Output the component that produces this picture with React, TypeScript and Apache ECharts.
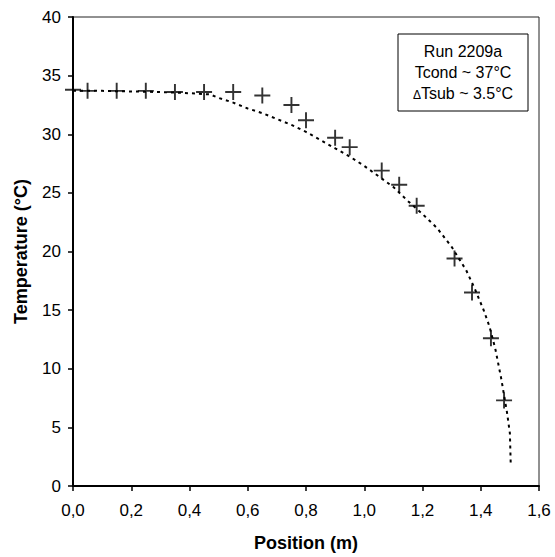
import React, { useEffect, useRef } from "react";
import * as echarts from "echarts";

const measuredX = [0, 0.05, 0.15, 0.25, 0.35, 0.45, 0.55, 0.65, 0.75, 0.8, 0.9, 0.95, 1.06, 1.12, 1.18, 1.31, 1.37, 1.435, 1.48];
const measuredT = [33.8, 33.7, 33.7, 33.7, 33.6, 33.6, 33.6, 33.3, 32.5, 31.2, 29.7, 28.9, 26.9, 25.7, 23.9, 19.4, 16.5, 12.6, 7.3];

const fitX = [0, 0.1, 0.2, 0.3, 0.4, 0.47, 0.5, 0.55, 0.6, 0.65, 0.7, 0.75, 0.8, 0.85, 0.9, 0.95, 1.0, 1.05, 1.1, 1.15, 1.2, 1.25, 1.3, 1.35, 1.38, 1.41, 1.43, 1.45, 1.47, 1.49, 1.5, 1.503];
const fitT = [33.7, 33.7, 33.65, 33.6, 33.5, 33.4, 33.1, 32.7, 32.2, 31.8, 31.3, 30.8, 30.2, 29.5, 28.8, 28.1, 27.3, 26.4, 25.5, 24.3, 23.2, 22.0, 20.4, 18.4, 16.8, 15.0, 13.6, 11.7, 9.2, 6.3, 4.5, 1.8];

const annotationLines = ["Run 2209a", "Tcond ~ 37°C", "{d|Δ}Tsub ~ 3.5°C"];

const FONT = "'Liberation Sans', Arial, sans-serif";

export default function App() {
  const ref = useRef<HTMLDivElement>(null);
  useEffect(() => {
    if (!ref.current) return;
    const chart = echarts.init(ref.current, null, { renderer: "svg" });
    const crossPath =
      "path://M-0.12,-1 L0.12,-1 L0.12,-0.12 L1,-0.12 L1,0.12 L0.12,0.12 L0.12,1 L-0.12,1 L-0.12,0.12 L-1,0.12 L-1,-0.12 L-0.12,-0.12 Z";
    const boxX = 398, boxY = 34, boxW = 130, boxH = 77;
    chart.setOption({
      animation: false,
      backgroundColor: "#fff",
      textStyle: { fontFamily: FONT },
      grid: {
        left: 73,
        right: 16,
        top: 17,
        bottom: 69,
        show: true,
        borderColor: "#222",
        borderWidth: 1,
        containLabel: false,
      },
      xAxis: {
        type: "value",
        min: 0,
        max: 1.6,
        interval: 0.2,
        name: "Position (m)",
        nameLocation: "middle",
        nameGap: 48,
        nameTextStyle: { fontFamily: FONT, fontSize: 18, fontWeight: "bold", color: "#000" },
        axisLine: { show: true, onZero: false, lineStyle: { color: "#000", width: 2 } },
        axisTick: { show: true, inside: false, length: 5, lineStyle: { color: "#000", width: 1.5 } },
        splitLine: { show: false },
        axisLabel: {
          margin: 16,
          fontFamily: FONT,
          fontSize: 17,
          color: "#000",
          formatter: (v: number) => v.toFixed(1).replace(".", ","),
        },
      },
      yAxis: {
        type: "value",
        min: 0,
        max: 40,
        interval: 5,
        name: "Temperature (°C)",
        nameLocation: "middle",
        nameGap: 43,
        nameTextStyle: { fontFamily: FONT, fontSize: 18, fontWeight: "bold", color: "#000" },
        axisLine: { show: true, onZero: false, lineStyle: { color: "#000", width: 2 } },
        axisTick: { show: true, inside: false, length: 5, lineStyle: { color: "#000", width: 1.5 } },
        splitLine: { show: false },
        axisLabel: { margin: 12, fontFamily: FONT, fontSize: 17, color: "#000" },
      },
      series: [
        {
          type: "line",
          data: fitX.map((x, i) => [x, fitT[i]]),
          showSymbol: false,
          symbol: "none",
          smooth: false,
          lineStyle: { color: "#000", width: 2, type: [3, 4] },
          z: 2,
        },
        {
          type: "scatter",
          data: measuredX.map((x, i) => [x, measuredT[i]]),
          symbol: crossPath,
          symbolSize: 16,
          itemStyle: { color: "#000" },
          clip: false,
          z: 3,
        },
      ],
      graphic: [
        {
          type: "rect",
          shape: { x: boxX, y: boxY, width: boxW, height: boxH },
          style: { fill: "#fff", stroke: "#000", lineWidth: 1 },
          z: 10,
        },
        ...annotationLines.map((t, i) => ({
          type: "text",
          x: boxX + boxW / 2,
          y: boxY + 17 + i * 21,
          z: 11,
          style: {
            text: t,
            fill: "#000",
            font: `16px ${FONT}`,
            align: "center",
            verticalAlign: "middle",
            rich: {
              d: { fontSize: 12, fontFamily: FONT, fill: "#000", padding: [4, 0, 0, 0] },
            },
          },
        })),
      ],
    });
    return () => chart.dispose();
  }, []);
  return (
    <div
      ref={ref}
      style={{ position: "absolute", left: 0, top: 0, width: 555, height: 557 }}
    />
  );
}
